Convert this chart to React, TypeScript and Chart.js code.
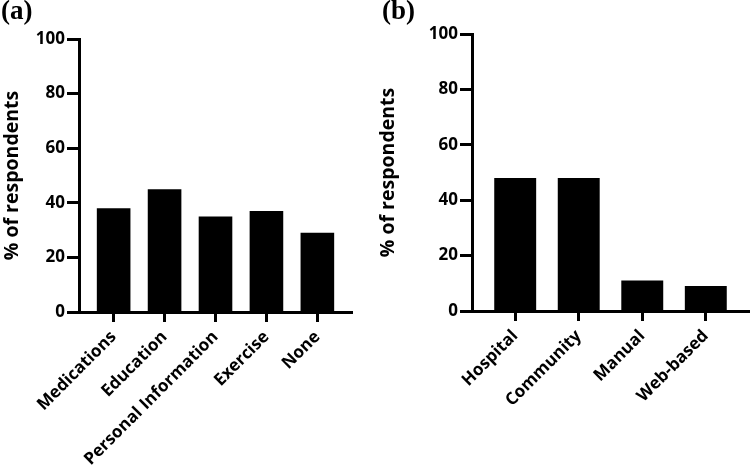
import React, { useEffect, useRef } from "react";
import { Chart, registerables } from "chart.js";

Chart.register(...registerables);

const categoriesA = ["Medications", "Education", "Personal Information", "Exercise", "None"];
const valuesA = [38, 45, 35, 37, 29];

const categoriesB = ["Hospital", "Community", "Manual", "Web-based"];
const valuesB = [48, 48, 11, 9];

const yTicks = [0, 20, 40, 60, 80, 100];
const yTitle = "% of respondents";

const FONT = "'Open Sans', 'DejaVu Sans', sans-serif";

type PanelCfg = {
  cats: string[];
  vals: number[];
  yWidth: number;
  xHeight: number;
  padTop: number;
  padRight: number;
  edge: number;
};

function makeChart(canvas: HTMLCanvasElement, cfg: PanelCfg) {
  const n = cfg.cats.length;
  return new Chart(canvas, {
    type: "bar",
    data: {
      datasets: [
        {
          data: cfg.vals.map((v, i) => ({ x: i, y: v })),
          backgroundColor: "#000000",
          borderWidth: 0,
          categoryPercentage: 1,
          barPercentage: 0.66,
        },
      ],
    },
    options: {
      responsive: false,
      animation: false,
      devicePixelRatio: 1,
      layout: { padding: { top: cfg.padTop, right: cfg.padRight, left: 0, bottom: 0 } },
      plugins: { legend: { display: false }, tooltip: { enabled: false }, title: { display: false } },
      scales: {
        x: {
          type: "linear",
          position: "bottom",
          offset: false,
          min: -cfg.edge,
          max: n - 1 + cfg.edge,
          afterBuildTicks: (scale: any) => {
            scale.ticks = cfg.cats.map((_, i) => ({ value: i }));
          },
          afterFit: (scale: any) => {
            scale.height = cfg.xHeight;
          },
          ticks: {
            autoSkip: false,
            minRotation: 45,
            maxRotation: 45,
            color: "#000",
            padding: 5,
            font: { family: FONT, size: 17, weight: "bold" },
            callback: (v: any) => cfg.cats[Math.round(Number(v))] ?? "",
          },
          grid: {
            display: true,
            offset: false,
            drawOnChartArea: false,
            drawTicks: true,
            tickLength: 10,
            tickWidth: 3,
            tickColor: "#000",
            color: "#000",
          },
          border: { display: true, width: 3, color: "#000" },
        },
        y: {
          type: "linear",
          position: "left",
          min: 0,
          max: 100,
          afterBuildTicks: (scale: any) => {
            scale.ticks = yTicks.map((v) => ({ value: v }));
          },
          afterFit: (scale: any) => {
            scale.width = cfg.yWidth;
          },
          ticks: {
            color: "#000",
            padding: 2,
            font: { family: FONT, size: 17, weight: "bold" },
          },
          grid: {
            display: true,
            drawOnChartArea: false,
            drawTicks: true,
            tickLength: 12,
            tickWidth: 3,
            tickColor: "#000",
            color: "#000",
          },
          border: { display: true, width: 3, color: "#000" },
          title: {
            display: true,
            text: yTitle,
            color: "#000",
            padding: { top: 1, bottom: 0 },
            font: { family: FONT, size: 19.5, weight: "bold" },
          },
        },
      },
    },
  });
}

function Panel(props: { cfg: PanelCfg; left: number; label: string; labelLeft: number }) {
  const ref = useRef<HTMLCanvasElement | null>(null);
  useEffect(() => {
    if (!ref.current) return;
    const ch = makeChart(ref.current, props.cfg);
    return () => ch.destroy();
  }, []);
  return (
    <div style={{ position: "absolute", left: props.left, top: 0, width: 376, height: 471 }}>
      <canvas ref={ref} width={376} height={471} style={{ width: 376, height: 471, display: "block" }} />
      <div
        style={{
          position: "absolute",
          left: props.labelLeft,
          top: -5,
          fontFamily: "'Liberation Serif', 'Times New Roman', serif",
          fontWeight: "bold",
          fontSize: 27,
          lineHeight: "30px",
          color: "#000",
        }}
      >
        {props.label}
      </div>
    </div>
  );
}

export default function App() {
  const cfgA: PanelCfg = {
    cats: categoriesA,
    vals: valuesA,
    yWidth: 79,
    xHeight: 159,
    padTop: 39,
    padRight: 24,
    edge: 0.68,
  };
  const cfgB: PanelCfg = {
    cats: categoriesB,
    vals: valuesB,
    yWidth: 96,
    xHeight: 160,
    padTop: 34,
    padRight: 3,
    edge: 0.68,
  };
  return (
    <div style={{ position: "fixed", left: 0, top: 0, width: 752, height: 471, background: "#fff", overflow: "hidden" }}>
      <Panel cfg={cfgA} left={0} label="(a)" labelLeft={1} />
      <Panel cfg={cfgB} left={376} label="(b)" labelLeft={6} />
    </div>
  );
}
